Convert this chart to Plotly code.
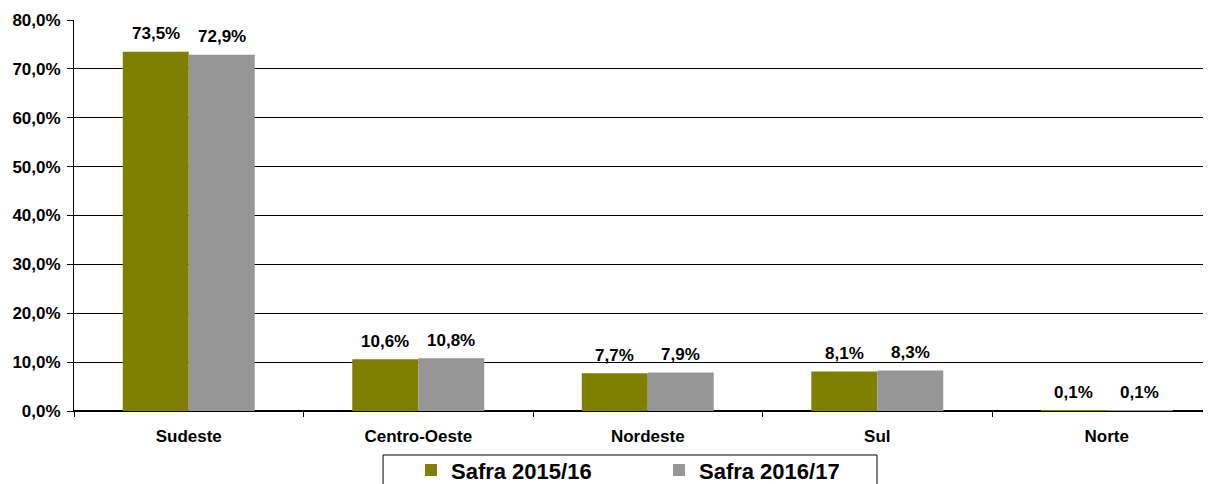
import plotly.graph_objects as go

categories = ["Sudeste", "Centro-Oeste", "Nordeste", "Sul", "Norte"]
safra_2015_16 = [73.5, 10.6, 7.7, 8.1, 0.1]
safra_2016_17 = [72.9, 10.8, 7.9, 8.3, 0.1]
series_names = ["Safra 2015/16", "Safra 2016/17"]
colors = ["#808000", "#969696"]
y_ticks = [0, 10, 20, 30, 40, 50, 60, 70, 80]


def fmt(v):
    return f"{v:.1f}".replace(".", ",") + "%"


bargap = 0.425
font_family = "Liberation Sans, Arial, sans-serif"
label_size = 17

fig = go.Figure()
for name, vals, col in zip(series_names, [safra_2015_16, safra_2016_17], colors):
    fig.add_trace(go.Bar(x=categories, y=vals, name=name, marker=dict(color=col, line=dict(width=0))))

# data labels above each bar
half = (1 - bargap) / 4
for si, vals in enumerate([safra_2015_16, safra_2016_17]):
    off = -half if si == 0 else half
    for i, v in enumerate(vals):
        fig.add_annotation(x=i + off, y=v, xref="x", yref="y",
                           text="<b>" + fmt(v) + "</b>",
                           showarrow=False, yshift=18,
                           font=dict(family=font_family, size=label_size, color="black"))

# legend frame
fig.add_shape(type="rect", xref="paper", yref="paper",
              x0=0.2699, x1=0.7013, y0=-0.1125, y1=-0.3,
              line=dict(color="black", width=1), fillcolor="white", layer="below")

fig.update_layout(
    width=1211, height=484,
    margin=dict(l=66, r=0, t=12, b=81, autoexpand=False),
    paper_bgcolor="white", plot_bgcolor="white",
    barmode="group", bargap=bargap, bargroupgap=0,
    separators=",.",
    font=dict(family=font_family, size=label_size, color="black"),
    showlegend=True,
    legend=dict(orientation="h", xanchor="left", x=0.2943, yanchor="top", y=-0.098,
                borderwidth=0, bgcolor="rgba(0,0,0,0)",
                font=dict(family=font_family, size=22, color="black", weight="bold"),
                entrywidth=203, entrywidthmode="pixels", traceorder="normal"),
    xaxis=dict(type="category", range=[-0.5, 4.489], showline=True, linecolor="black", linewidth=1,
               ticks="outside", tickson="boundaries", ticklen=5, tickcolor="black",
               ticklabelstandoff=10,
               showgrid=False,
               tickfont=dict(family=font_family, size=label_size, color="black", weight="bold")),
    yaxis=dict(range=[0, 80], tickmode="array", tickvals=y_ticks, ticktext=[fmt(t) for t in y_ticks],
               showline=True, linecolor="black", linewidth=1,
               ticks="outside", ticklen=6, tickcolor="black",
               ticklabelstandoff=3,
               showgrid=True, gridcolor="black", gridwidth=1,
               zeroline=True, zerolinecolor="black",
               tickfont=dict(family=font_family, size=label_size, color="black", weight="bold")),
)

fig.write_html("out.html")
